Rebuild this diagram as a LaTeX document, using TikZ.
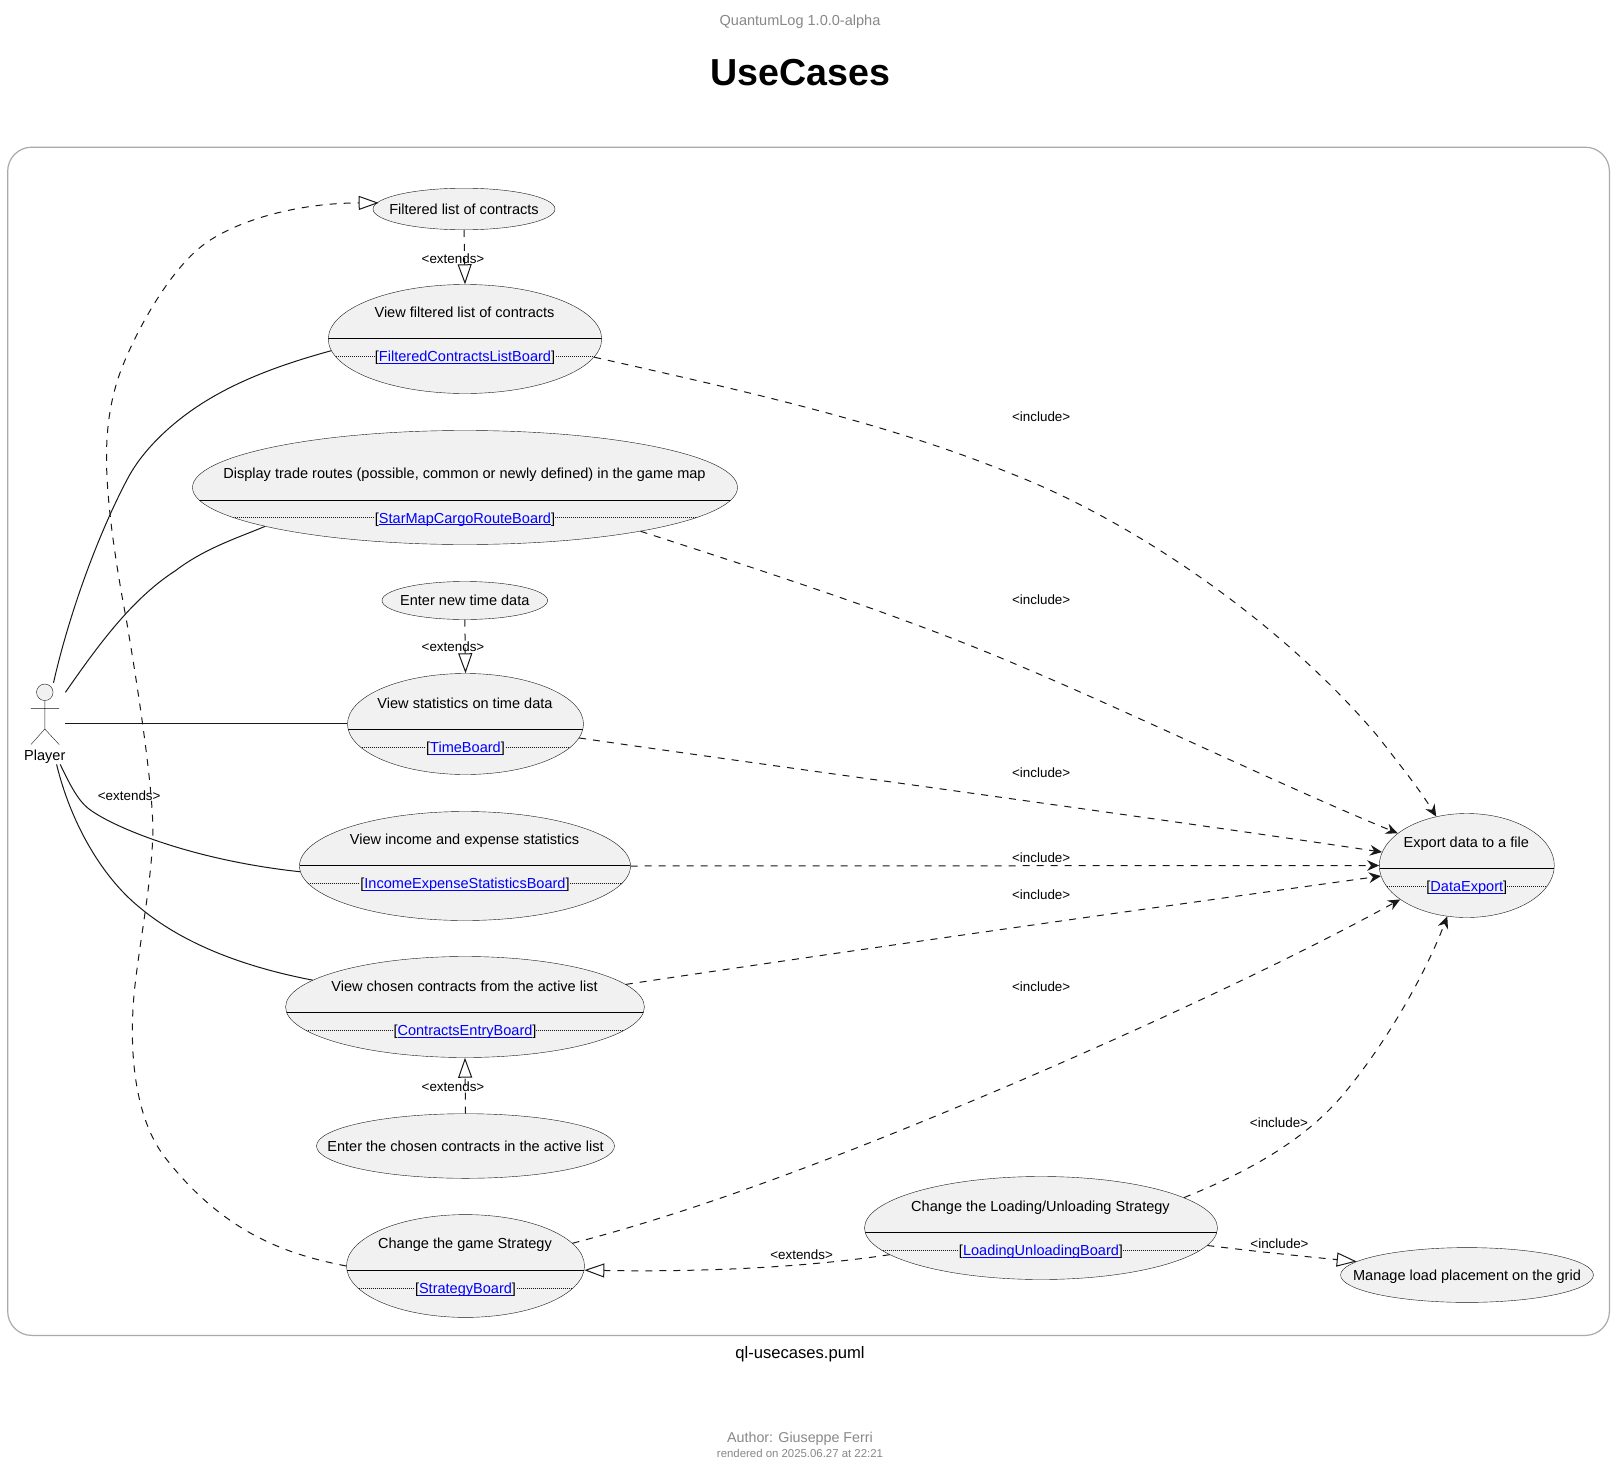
\documentclass[tikz,border=0pt]{standalone}
\usepackage{fontspec}
\setmainfont{Liberation Sans}
\usetikzlibrary{shapes.geometric,arrows.meta}
\definecolor{ucfill}{HTML}{F1F1F1}
\definecolor{ink}{HTML}{181818}
\definecolor{linkb}{HTML}{0000FF}
\definecolor{greytxt}{HTML}{888888}
\definecolor{framec}{HTML}{AAAAAA}
\newcommand{\lnk}[1]{\setbox0=\hbox{#1}\rlap{\color{linkb}\rule[-1.5pt]{\wd0}{0.6pt}}\textcolor{linkb}{#1}}
\tikzset{
  ucshape/.style={ellipse,draw=ink,fill=ucfill,line width=0.3pt,inner sep=0pt},
  uctext/.style={font=\fontsize{10.9}{13}\selectfont,text=black,anchor=base,inner sep=0pt},
  linktext/.style={font=\fontsize{10.9}{13}\selectfont,text=black,anchor=base,inner sep=0pt,fill=ucfill},
  edgelabel/.style={font=\fontsize{10.05}{12}\selectfont,text=black,anchor=base,inner sep=0pt},
  assoc/.style={draw=ink,line width=0.75pt},
  dep/.style={draw=ink,line width=0.75pt,dash pattern=on 5.25pt off 5.25pt},
  incl/.style={dep,-{Stealth[length=9pt,width=8pt,inset=3pt]}},
  ext/.style={dep,-{Triangle[open,length=15pt,width=10.5pt]}}
}
% name, cx, cy, rx, ry, title, link, divider y
\newcommand{\ucase}[8]{%
  \node[ucshape,minimum width={2*#4*0.75pt},minimum height={2*#5*0.75pt}] (#1) at (#2,#3) {};
  \begin{scope}
    \clip (#2,#3) ellipse [x radius=#4,y radius=#5];
    \draw[black,line width=0.75pt] (#2-#4,#8) -- (#2+#4,#8);
    \draw[ink,line width=0.5pt,dash pattern=on 0.75pt off 0.75pt] (#2-#4,#8+17.6) -- (#2+#4,#8+17.6);
  \end{scope}
  \node[uctext] (#1t) at (#2-0.5,#8-21.4) {#6};
  \node[linktext] (#1l) at (#2,#8+23.2) {[\lnk{#7}]};
}
\newcommand{\ucsingle}[6]{%
  \node[ucshape,minimum width={2*#4*0.75pt},minimum height={2*#5*0.75pt}] (#1) at (#2,#3) {};
  \node[uctext] (#1t) at (#2,#3+5.2) {#6};
}
\begin{document}
\begin{tikzpicture}[x=0.75pt,y=-0.75pt]
\useasboundingbox (0,0) rectangle (1614,1477);
\fill[white] (0,0) rectangle (1614,1477);
% header and footer
\node[anchor=base,inner sep=0pt,text=greytxt,font=\fontsize{10.9}{13}\selectfont] (hdr) at (800,26) {QuantumLog 1.0.0-alpha};
\node[anchor=base,inner sep=0pt,font=\bfseries\fontsize{28.2}{32}\selectfont] (ttl) at (800.5,85) {UseCases};
\draw[framec,line width=0.9pt,rounded corners=18pt] (7.7,147.2) rectangle (1609.4,1335.4);
\node[anchor=base,inner sep=0pt,font=\fontsize{12.45}{15}\selectfont] (cap) at (800,1358.5) {ql-usecases.puml};
\node[anchor=base,inner sep=0pt,text=greytxt,font=\fontsize{10.7}{13}\selectfont] (auth) at (800,1442.4) {Author: Giuseppe Ferri};
\node[anchor=base,inner sep=0pt,text=greytxt,font=\fontsize{8.55}{10}\selectfont] (rend) at (800,1457) {rendered on 2025.06.27 at 22:21};
% use cases
\ucsingle{fl}{464}{209}{91}{20.8}{Filtered list of contracts}
\ucase{vf}{465}{339}{136.7}{54.5}{View filtered list of contracts}{FilteredContractsListBoard}{338.4}
\ucase{dt}{465}{487.5}{272.5}{57}{Display trade routes (possible, common or newly defined) in the game map}{StarMapCargoRouteBoard}{500}
\ucsingle{et}{464.8}{600.5}{82.8}{19}{Enter new time data}
\ucase{vs}{465.5}{724}{118}{50.5}{View statistics on time data}{TimeBoard}{729.6}
\ucase{ie}{465}{866}{165.5}{54.5}{View income and expense statistics}{IncomeExpenseStatisticsBoard}{865.4}
\ucase{vc}{465}{1007}{179.4}{50.5}{View chosen contracts from the active list}{ContractsEntryBoard}{1012.6}
\ucsingle{ec}{465.5}{1146}{149}{32.3}{Enter the chosen contracts in the active list}
\ucase{st}{465.5}{1266}{119}{51.4}{Change the game Strategy}{StrategyBoard}{1270.3}
\ucase{lu}{1041}{1228}{176.5}{51.5}{Change the Loading/Unloading Strategy}{LoadingUnloadingBoard}{1232.5}
\ucase{ex}{1466.8}{865.5}{87.5}{52}{Export data to a file}{DataExport}{868.7}
\ucsingle{mg}{1467}{1275}{126.4}{27.4}{Manage load placement on the grid}
% actor
\node[circle,draw=ink,fill=ucfill,line width=0.3pt,inner sep=0pt,minimum size=12.4pt] (head) at (44.8,692.3) {};
\coordinate (hip) at (44.8,729);
\coordinate (armL) at (30.9,708.3);
\coordinate (armR) at (59.2,708.3);
\coordinate (legL) at (30.9,744.6);
\coordinate (legR) at (59.2,744.6);
\draw[ink,line width=0.3pt] (head) -- (hip) -- (legL) (hip) -- (legR) (armL) -- (armR);
\node[uctext] (player) at (44.8,760.9) {Player};
\coordinate (pa) at (53.5,682.8);
\coordinate (pb) at (65.4,692.3);
\coordinate (pc) at (65.4,723);
\coordinate (pd) at (60.2,764.4);
\coordinate (pe) at (56.6,764.4);
% player associations
\draw[assoc] (pa) .. controls (70,610) and (100,530) .. (128.7,476.6)
  .. controls (145,447) and (175,420) .. (205.9,401)
  .. controls (245,377) and (290,362) .. (vf.185.4);
\draw[assoc] (pb) .. controls (95,650) and (130,600) .. (175,571) .. controls (205,548) and (240,537) .. (dt.191.5);
\draw[assoc] (pc) -- (vs.west |- pc);
\draw[assoc] (pd) .. controls (70,785) and (78,800) .. (87.5,807.8) .. controls (110,826) and (190,860) .. (ie.182.2);
\draw[assoc] (pe) .. controls (70,820) and (100,875) .. (139,906.9) .. controls (190,950) and (260,970) .. (vc.170.4);
% strategy to filtered list
\draw[ext,shorten >=-1.5pt] (st.west) .. controls (290,1255) and (225,1235) .. (164.7,1157)
  .. controls (134.7,1118) and (128,1050) .. (134.8,987)
  .. controls (140,940) and (152,880) .. (152.9,831.4)
  .. controls (153,790) and (140,700) .. (126.1,618.2)
  .. controls (115,560) and (106.5,500) .. (106.5,457.7)
  .. controls (106.5,425) and (111,400) .. (118.4,377.5)
  .. controls (128,348) and (165,272) .. (205.9,243)
  .. controls (240,219) and (300,203) .. (fl.176);
% extends
\draw[ext] (fl.south) -- (vf.north);
\draw[ext] (et.south) -- (vs.north);
\draw[ext] (ec.north) -- (vc.south);
\draw[ext] (lu.190.3) .. controls (800,1268) and (700,1272) .. (st.-2.1);
\draw[ext] (lu.-6.5) .. controls (1260,1252) and (1310,1257) .. (mg.173.3);
% includes
\draw[incl] (vf.-8) .. controls (730,388) and (880,420) .. (1012.9,474.3)
  .. controls (1130,520) and (1280,620) .. (1378.3,737)
  .. controls (1400,765) and (1420,790) .. (ex.122.5);
\draw[incl] (dt.-14.4) .. controls (760,570) and (900,615) .. (1012.9,663)
  .. controls (1130,712) and (1280,785) .. (ex.155.6);
\draw[incl] (vs.-7.8) .. controls (800,770) and (1100,810) .. (ex.171.5);
\draw[incl] (ie.east) -- (ex.west);
\draw[incl] (vc.8.2) .. controls (800,958) and (1100,915) .. (ex.187.8);
\draw[incl] (st.12.2) .. controls (720,1205) and (880,1140) .. (1012.9,1083.8)
  .. controls (1150,1025) and (1290,960) .. (ex.207.7);
\draw[incl] (lu.12.3) .. controls (1240,1175) and (1300,1145) .. (1342.3,1095.6)
  .. controls (1385,1045) and (1425,975) .. (ex.249.5);
% edge labels
\node[edgelabel] (e1) at (453,263.4) {<extends>};
\node[edgelabel] (e2) at (453,651.8) {<extends>};
\node[edgelabel] (e3) at (453,1091.5) {<extends>};
\node[edgelabel] (e4) at (129.2,800.8) {<extends>};
\node[edgelabel] (e5) at (801.6,1259) {<extends>};
\node[edgelabel] (i1) at (1041.2,421.5) {<include>};
\node[edgelabel] (i2) at (1041.2,604.6) {<include>};
\node[edgelabel] (i3) at (1041.2,777.7) {<include>};
\node[edgelabel] (i4) at (1041.2,862.1) {<include>};
\node[edgelabel] (i5) at (1041.2,899.4) {<include>};
\node[edgelabel] (i6) at (1041.2,991.9) {<include>};
\node[edgelabel] (i7) at (1279,1127.3) {<include>};
\node[edgelabel] (i8) at (1279.5,1248.6) {<include>};
\end{tikzpicture}
\end{document}
